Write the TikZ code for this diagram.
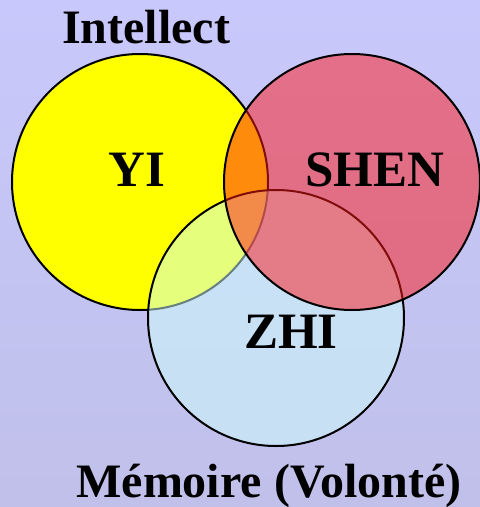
\documentclass[tikz,border=0pt]{standalone}
\usepackage{fontspec}
\setmainfont{Liberation Serif}
\definecolor{bgtop}{RGB}{200,200,252}
\definecolor{bgbot}{RGB}{192,192,234}
\definecolor{yiyellow}{RGB}{255,255,0}
\definecolor{shenred}{RGB}{255,24,24}
\definecolor{zhiblue}{RGB}{205,255,250}

\begin{document}
\begin{tikzpicture}[x=1pt,y=-1pt,
    ring/.style={draw=black,line width=2pt},
    lbl/.style={font=\fontsize{48}{58}\selectfont\bfseries,inner sep=0pt,anchor=base},
    big/.style={lbl,font=\fontsize{51}{60}\selectfont\bfseries}]
  \shade[top color=bgtop,bottom color=bgbot] (0,0) rectangle (480,507);
  \useasboundingbox (0,0) rectangle (480,507);
  % the three circles
  \filldraw[ring,fill=yiyellow] (140,182) circle[radius=128pt];
  \filldraw[ring,fill=zhiblue,fill opacity=0.5] (276,318) circle[radius=128pt];
  \filldraw[ring,fill=shenred,fill opacity=0.5] (352,182) circle[radius=128pt];
  % labels
  \node[lbl] (intellect) at (146,43)  {Intellect};
  \node[big] (yi)        at (137,186) {YI};
  \node[big] (shen)      at (375,186) {SHEN};
  \node[big] (zhi)       at (291,348) {ZHI};
  \node[lbl] (memoire)   at (269,497) {Mémoire (Volonté)};
\end{tikzpicture}
\end{document}
